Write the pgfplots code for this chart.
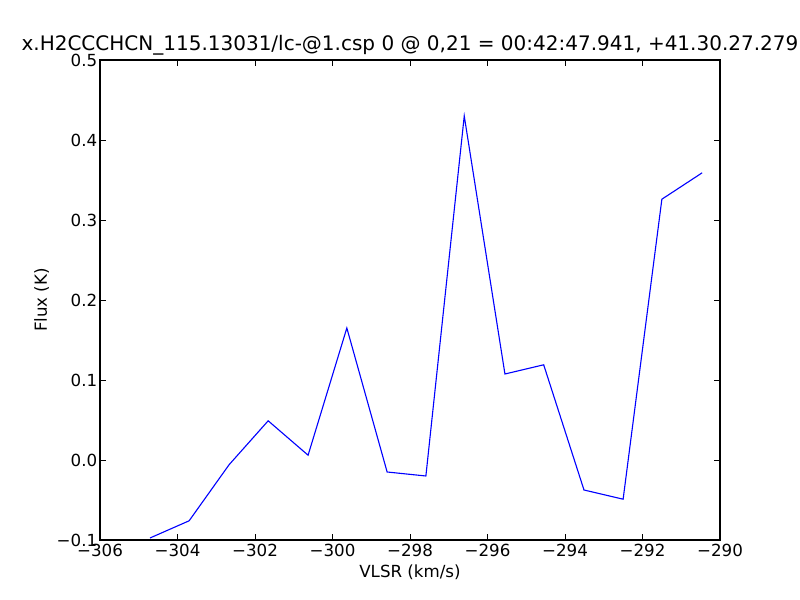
\documentclass[border=0pt]{standalone}
\usepackage{fontspec}
\setmainfont{DejaVu Sans}
\usepackage{pgfplots}
\pgfplotsset{compat=1.18}
\begin{document}
\begin{tikzpicture}[x=1pt,y=1pt]
\fill[white] (0,0) rectangle (720,540);
\path[use as bounding box] (0,0) rectangle (720,540);
\begin{axis}[
  at={(90pt,54pt)}, anchor=south west,
  scale only axis, width=558pt, height=432pt,
  xmin=-306, xmax=-290, ymin=-0.1, ymax=0.5,
  xtick={-306,-304,...,-290},
  xticklabels={−306,−304,−302,−300,−298,−296,−294,−292,−290},
  ytick={-0.1,0,0.1,0.2,0.3,0.4,0.5},
  yticklabels={−0.1,0.0,0.1,0.2,0.3,0.4,0.5},
  tick align=inside, major tick length=5pt,
  tick style={black, line width=0.6pt},
  axis line style={line width=1.2pt},
  ticklabel style={font=\fontsize{15}{17}\selectfont},
  xticklabel style={yshift=0pt},
  yticklabel style={xshift=1pt},
  label style={font=\fontsize{15}{17}\selectfont},
  xlabel={VLSR (km/s)}, ylabel={Flux (K)},
  xlabel style={yshift=-1pt},
  ylabel style={yshift=0pt},
  title={x.H2CCCHCN\_115.13031/lc-@1.csp 0 @ 0,21 = 00:42:47.941, +41.30.27.279},
  title style={font=\fontsize{18}{20}\selectfont, yshift=-5pt},
  clip=false,
]
\addplot[color={rgb,255:red,0;green,0;blue,255}, line width=1pt, mark=none] coordinates {
(-304.71,-0.0975)
(-303.70,-0.076)
(-302.67,-0.006)
(-301.66,0.049)
(-300.63,0.006)
(-299.63,0.165)
(-298.59,-0.015)
(-297.59,-0.020)
(-296.60,0.430)
(-295.55,0.1075)
(-294.55,0.119)
(-293.51,-0.0375)
(-292.50,-0.049)
(-291.50,0.326)
(-290.46,0.359)
};
\end{axis}
\end{tikzpicture}
\end{document}
